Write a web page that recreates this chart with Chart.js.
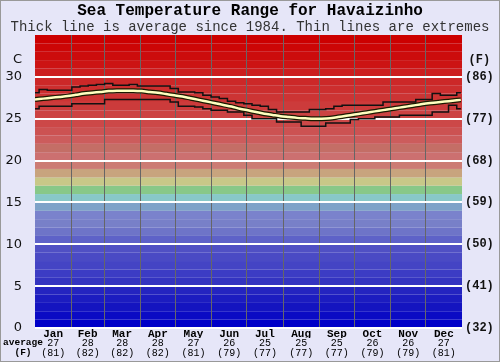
<!DOCTYPE html>
<html>
<head>
<meta charset="utf-8">
<script src="https://cdn.jsdelivr.net/npm/chart.js@4"></script>
<style>
  html, body { margin: 0; padding: 0; background: #e6e6f8; }
  canvas { display: block; }
</style>
</head>
<body>
<canvas id="c" width="500" height="362"></canvas>
<script>
// ---- data ----
const months = ['Jan','Feb','Mar','Apr','May','Jun','Jul','Aug','Sep','Oct','Nov','Dec'];
const monthDays = [31,28,31,30,31,30,31,31,30,31,30,31];
const avgC = [27,28,28,28,27,26,25,25,25,26,26,27];
const avgF = [81,82,82,82,81,79,77,77,77,79,79,81];
const yTicks = [0,5,10,15,20,25,30];

const days = [0,7,14,21,28,35,42,49,56,63,70,77,84,91,98,105,112,119,126,133,140,147,154,161,168,175,182,189,196,203,210,217,224,231,238,245,252,259,266,273,280,287,294,301,308,315,322,329,336,343,350,357,364];
const avgTemp = [27.3,27.4,27.5,27.6,27.7,27.85,28.0,28.1,28.2,28.3,28.35,28.35,28.35,28.3,28.2,28.1,27.95,27.8,27.65,27.45,27.25,27.05,26.85,26.65,26.45,26.2,26.0,25.8,25.6,25.45,25.3,25.2,25.1,25.05,25.0,25.0,25.05,25.2,25.35,25.5,25.65,25.8,25.95,26.1,26.25,26.4,26.55,26.7,26.85,26.95,27.05,27.15,27.25];
const maxTemp = [28.1,28.5,28.4,28.4,28.4,28.8,28.9,29.0,29.1,29.2,29.0,29.0,29.1,28.9,28.9,28.9,28.9,28.6,28.2,28.2,28.1,27.8,27.6,27.4,27.1,26.9,26.8,26.6,26.5,26.1,25.8,25.8,25.8,25.8,26.1,26.1,26.2,26.5,26.6,26.6,26.6,26.6,26.6,27.0,27.0,27.0,27.0,27.3,27.3,28.0,27.8,27.8,28.1];
const minTemp = [26.2,26.5,26.5,26.5,26.5,26.8,26.8,26.8,26.8,27.3,27.3,27.3,27.3,27.3,27.3,27.3,27.3,27.0,26.5,26.5,26.4,26.2,26.0,26.0,25.8,25.8,25.4,25.0,25.0,25.0,24.6,24.6,24.6,24.1,24.1,24.1,24.5,24.5,24.5,24.9,25.0,25.0,25.2,25.2,25.2,25.4,25.4,25.4,25.4,25.8,25.8,26.6,26.2];

// ---- styles ----
const BG = '#e6e6f8';
const bandColors = [
  '#0000c8','#0a0ac4','#1414c0','#1c1cc0','#2424c0',
  '#3434c0','#3c3cc4','#4444c4','#4a4ac4','#5050c4',
  '#5e62c8','#6e74c8','#7880c8','#7a82cc','#7ea2c8',
  '#88c8c8','#88c888','#c8c888','#c8a47e','#cc7c74',
  '#cc7070','#c46e66','#cc5c5c','#cc5252','#cc4848',
  '#cc4242','#cc3b3b','#cc3434','#cc2e2e','#cc2828',
  '#cc1e1e','#cc1414','#cc0c0c','#cc0606','#cc0000'
];

// derived
const boundaries = [0];
monthDays.forEach(d => boundaries.push(boundaries[boundaries.length-1] + d));
const mids = monthDays.map((d,i) => boundaries[i] + d/2);
const pts = arr => days.map((d,i) => ({x: d, y: arr[i]}));
const mono = 'Liberation Mono, DejaVu Sans Mono, monospace';

const bgPlugin = {
  id: 'bands',
  beforeDraw(chart) {
    const {ctx, chartArea: a, scales: {y}} = chart;
    ctx.save();
    ctx.fillStyle = BG;
    ctx.fillRect(0, 0, chart.width, chart.height);
    bandColors.forEach((c, i) => {
      const top = y.getPixelForValue(i + 1);
      const bot = y.getPixelForValue(i);
      ctx.fillStyle = c;
      ctx.fillRect(a.left, top, a.right - a.left, bot - top);
    });
    ctx.restore();
  },
  afterDraw(chart) {
    const {ctx, scales: {xc, xf}} = chart;
    ctx.save();
    ctx.fillStyle = '#000';
    ctx.font = 'bold 9.5px ' + mono;
    ctx.textAlign = 'center';
    ctx.textBaseline = 'middle';
    ctx.fillText('average', 23, xc.top + 5);
    ctx.fillText('(F)', 23, xf.top + 5);
    ctx.strokeStyle = '#999';
    ctx.lineWidth = 1;
    ctx.strokeRect(0.5, 0.5, chart.width - 1, chart.height - 1);
    ctx.restore();
  }
};

const monthAxis = (weight, height, labels, font) => ({
  type: 'linear', position: 'bottom', min: 0, max: 365, weight,
  afterBuildTicks: s => { s.ticks = mids.map(v => ({value: v})); },
  afterFit: s => { s.height = height; },
  grid: {display: false, drawTicks: false},
  border: {display: false},
  ticks: {autoSkip: false, maxRotation: 0, padding: 0, color: '#000', font,
          callback: (v, i) => labels[i]}
});

new Chart(document.getElementById('c'), {
  type: 'line',
  data: {
    datasets: [
      {data: pts(avgTemp), borderColor: '#ffffc0', borderWidth: 2.5, pointRadius: 0, tension: 0.3, order: 0},
      {data: pts(avgTemp), borderColor: '#1a1a00', borderWidth: 5, pointRadius: 0, tension: 0.3, order: 1},
      {data: pts(maxTemp), borderColor: '#111', borderWidth: 1.5, stepped: 'middle', pointRadius: 0, order: 2},
      {data: pts(minTemp), borderColor: '#111', borderWidth: 1.5, stepped: 'middle', pointRadius: 0, order: 2}
    ]
  },
  options: {
    responsive: false,
    devicePixelRatio: 1,
    animation: false,
    layout: {padding: {top: 2, left: 0, right: 0, bottom: 0}},
    plugins: {
      legend: {display: false},
      tooltip: {enabled: false},
      title: {display: true, text: 'Sea Temperature Range for Havaizinho', color: '#000',
              font: {family: mono, size: 16, weight: 'bold', lineHeight: 1.1}, padding: {top: 0, bottom: 0}},
      subtitle: {display: true, text: 'Thick line is average since 1984. Thin lines are extremes', color: '#333',
              font: {family: mono, size: 14, weight: 'normal', lineHeight: 1.1}, padding: {top: 0, bottom: 0}}
    },
    scales: {
      x: {
        type: 'linear', position: 'bottom', min: 0, max: 365, weight: 0,
        afterBuildTicks: s => { s.ticks = boundaries.map(v => ({value: v})); },
        afterFit: s => { s.height = 0; },
        grid: {color: c => (c.tick && (c.tick.value === 0 || c.tick.value === 365)) ? 'rgba(0,0,0,0)' : '#666',
               lineWidth: 1, drawTicks: false},
        border: {display: false},
        ticks: {display: false}
      },
      xm: monthAxis(1, 10, months, {family: mono, size: 11, weight: 'bold'}),
      xc: monthAxis(2, 10, avgC, {family: mono, size: 10, lineHeight: 1.0}),
      xf: monthAxis(3, 14, avgF.map(f => '(' + f + ')'), {family: mono, size: 10, lineHeight: 1.0}),
      y: {
        type: 'linear', position: 'left', min: 0, max: 35,
        afterBuildTicks: s => { s.ticks = yTicks.concat([32]).map(v => ({value: v})); },
        afterFit: s => { s.width = 35; },
        grid: {color: c => (c.tick && c.tick.value === 32) ? 'rgba(0,0,0,0)' : '#ffffff', lineWidth: 2, drawTicks: false},
        border: {display: false},
        ticks: {padding: 13, color: '#111', font: {family: 'DejaVu Sans', size: 13},
                callback: v => v === 32 ? 'C' : String(v)}
      },
      y2: {
        type: 'linear', position: 'right', min: 0, max: 35,
        afterBuildTicks: s => { s.ticks = yTicks.concat([32]).map(v => ({value: v})); },
        afterFit: s => { s.width = 38; },
        grid: {display: false, drawTicks: false},
        border: {display: false},
        ticks: {padding: 3, crossAlign: 'center', color: '#111', font: {family: mono, size: 12, weight: 'bold'},
                callback: v => v === 32 ? '(F)' : '(' + Math.round(v * 9 / 5 + 32) + ')'}
      }
    }
  },
  plugins: [bgPlugin]
});
</script>
</body>
</html>
